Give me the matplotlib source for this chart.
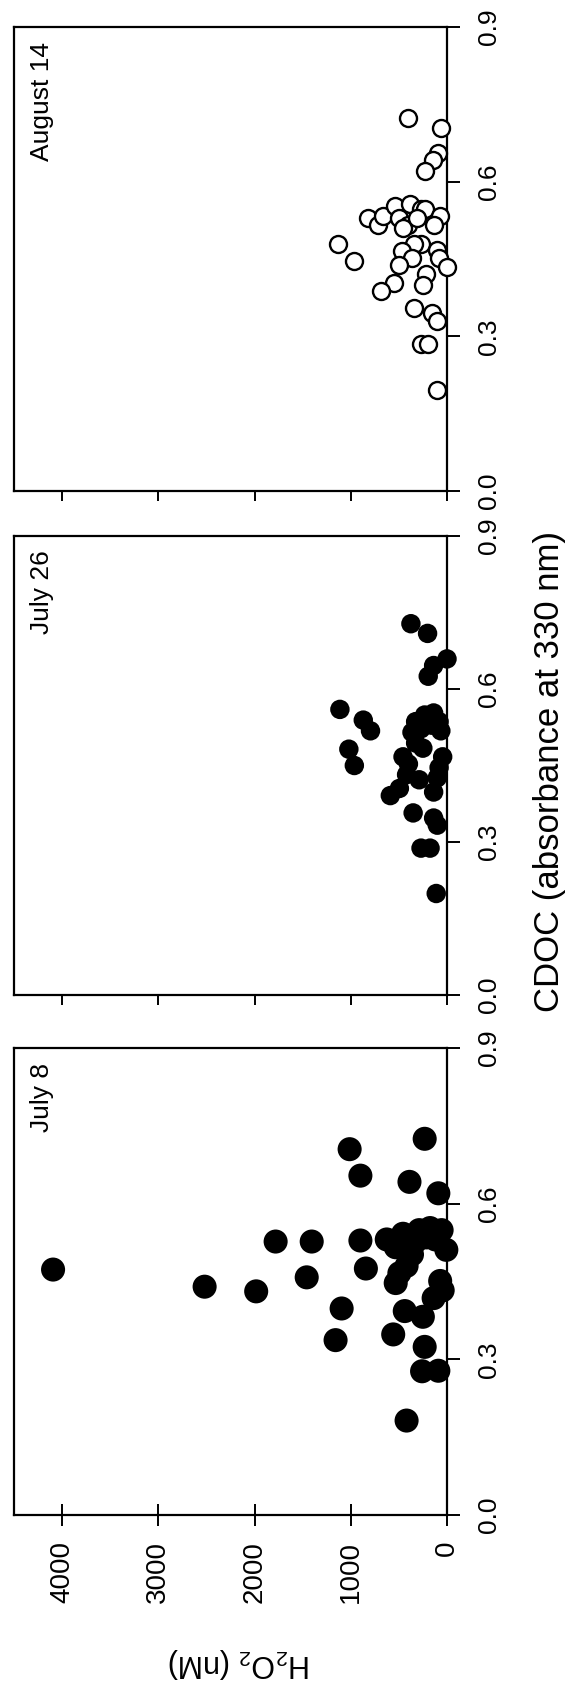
import matplotlib
matplotlib.use('Agg')
import matplotlib.pyplot as plt

plt.rcParams['font.family'] = ['Liberation Sans', 'DejaVu Sans']
plt.rcParams['mathtext.default'] = 'regular'

# ---------------- data ----------------
dates = ['August 14', 'July 26', 'July 8']

# July 8 (filled, large)
jul8_h2o2 = [4094, 2519, 1983, 1781, 1406, 1458, 1095, 1158, 1012, 900, 900, 843,
             390, 232, 90, 559, 439, 251, 232, 259, 90, 420, 71, 45, 139, 626,
             533, 457, 401, 326, 176, 56, 7, 495, 420, 533, 214, 289, 364, 120]
jul8_cdoc = [0.473, 0.440, 0.431, 0.527, 0.527, 0.458, 0.398, 0.337, 0.705, 0.654,
             0.529, 0.475, 0.642, 0.725, 0.620, 0.348, 0.393, 0.382, 0.324, 0.277,
             0.278, 0.182, 0.451, 0.433, 0.418, 0.531, 0.516, 0.542, 0.513, 0.527,
             0.553, 0.549, 0.511, 0.466, 0.480, 0.447, 0.535, 0.549, 0.502, 0.531]

# July 26 (filled)
jul26_h2o2 = [1113, 870, 795, 1020, 963, 589, 375, 202, 0, 139, 195, 352, 139, 101,
              270, 176, 112, 326, 232, 139, 82, 364, 270, 157, 64, 251, 457, 401,
              420, 289, 45, 82, 101, 139, 495, 326]
jul26_cdoc = [0.560, 0.539, 0.518, 0.482, 0.450, 0.391, 0.728, 0.709, 0.659, 0.646,
              0.625, 0.357, 0.347, 0.333, 0.288, 0.288, 0.199, 0.536, 0.549, 0.553,
              0.536, 0.515, 0.522, 0.529, 0.518, 0.484, 0.467, 0.453, 0.432, 0.422,
              0.467, 0.446, 0.426, 0.398, 0.405, 0.494]

# August 14 (open circles)
aug14_h2o2 = [1132, 971, 401, 64, 94, 146, 232, 821, 720, 664, 540, 495, 382, 270,
              232, 71, 139, 401, 457, 270, 345, 465, 364, 101, 82, 0, 495, 214, 251,
              551, 682, 345, 157, 109, 270, 195, 101, 307]
aug14_cdoc = [0.479, 0.447, 0.724, 0.705, 0.656, 0.642, 0.620, 0.530, 0.516, 0.533,
              0.552, 0.530, 0.557, 0.547, 0.547, 0.533, 0.516, 0.516, 0.510, 0.480,
              0.479, 0.465, 0.452, 0.467, 0.452, 0.435, 0.438, 0.421, 0.399, 0.404,
              0.387, 0.354, 0.346, 0.329, 0.285, 0.285, 0.195, 0.530]

h2o2_ticks = [0, 1000, 2000, 3000, 4000]
h2o2_ticklabels = ['0', '1000', '2000', '3000', '4000']
cdoc_ticks = [0.0, 0.3, 0.6, 0.9]
cdoc_ticklabels = ['0.0', '0.3', '0.6', '0.9']

# ---------------- figure ----------------
W, H = 568, 1691
fig = plt.figure(figsize=(W / 100, H / 100), dpi=100)

# pixel boxes (top, bottom) of each panel, x from 14 to 447
boxes = [(27, 491), (536, 995), (1048, 1515)]
left_px, right_px = 14, 447

series = [
    (aug14_h2o2, aug14_cdoc, dict(s=150, facecolors='white', edgecolors='black', linewidths=1.7)),
    (jul26_h2o2, jul26_cdoc, dict(s=196, facecolors='black', edgecolors='none')),
    (jul8_h2o2, jul8_cdoc, dict(s=300, facecolors='black', edgecolors='none')),
]

for i, ((top, bot), date, (hx, cy, style)) in enumerate(zip(boxes, dates, series)):
    ax = fig.add_axes([left_px / W, 1 - bot / H, (right_px - left_px) / W, (bot - top) / H])
    ax.scatter(hx, cy, marker='o', clip_on=False, zorder=3, **style)
    ax.set_xlim(4500, 0)
    ax.set_ylim(0, 0.9)
    for sp in ax.spines.values():
        sp.set_linewidth(1.6)

    # CDOC axis on the right
    ax.yaxis.tick_right()
    ax.set_yticks(cdoc_ticks)
    ax.set_yticklabels(cdoc_ticklabels, rotation=90, va='center', ha='left', fontsize=19)
    ax.tick_params(axis='y', direction='out', length=9.5, width=1.4, pad=12)

    # H2O2 axis at the bottom
    ax.set_xticks(h2o2_ticks)
    last = (i == len(boxes) - 1)
    if last:
        ax.set_xticklabels(h2o2_ticklabels, rotation=90, fontsize=20)
        ax.tick_params(axis='x', direction='inout', length=16, width=1.4, pad=10.5)
    else:
        ax.set_xticklabels([''] * len(h2o2_ticks))
        ax.tick_params(axis='x', direction='out', length=7.5, width=1.4)

    ax.text(0.036, 0.968, date, transform=ax.transAxes, rotation=90,
            ha='left', va='top', fontsize=19)

fig.text(239 / W, 1 - 1663 / H, r'H$_2$O$_2$ (nM)', rotation=180,
         ha='center', va='center', fontsize=22)
fig.text(549 / W, 1 - 772 / H, 'CDOC (absorbance at 330 nm)', rotation=90,
         ha='center', va='center', fontsize=25)

fig.savefig('out.png', dpi=100)
